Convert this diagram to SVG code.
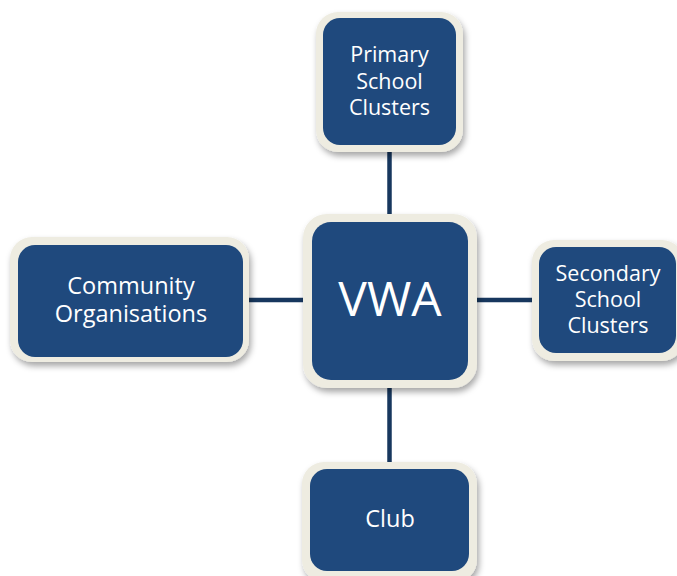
<svg xmlns="http://www.w3.org/2000/svg" width="677" height="576" viewBox="0 0 677 576">
<defs>
<filter id="sh" x="-20%" y="-20%" width="140%" height="140%">
<feDropShadow dx="2" dy="4" stdDeviation="3" flood-color="#000" flood-opacity="0.35"/>
</filter>
</defs>
<style>
.outer{fill:#EEECE1;filter:url(#sh)}
.inner{fill:#1F497D}
.lbl{fill:#fff;font-family:"Open Sans","Noto Sans",sans-serif;font-size:21.5px;text-anchor:middle}
.con{stroke:#17375E;stroke-width:4.5;fill:none}
</style>
<rect width="677" height="576" fill="#fff"/>
<g id="connectors">
<line class="con" x1="389.5" y1="150" x2="389.5" y2="218"/>
<line class="con" x1="389.5" y1="385" x2="389.5" y2="464"/>
<line class="con" x1="248" y1="300" x2="306" y2="300"/>
<line class="con" x1="473" y1="300" x2="534" y2="300"/>
</g>
<g id="primary">
<rect class="outer" x="316" y="12" width="147" height="140" rx="22"/>
<rect class="inner" x="323" y="18" width="133" height="127" rx="17"/>
<text class="lbl" x="389.5" y="62">Primary</text>
<text class="lbl" x="389.5" y="88.5">School</text>
<text class="lbl" x="389.5" y="115">Clusters</text>
</g>
<g id="vwa">
<rect class="outer" x="303" y="214" width="174" height="174" rx="24"/>
<rect class="inner" x="312" y="222" width="156" height="158" rx="19"/>
<text class="lbl" x="390" y="316" style="font-size:48px">VWA</text>
</g>
<g id="community">
<rect class="outer" x="10" y="237" width="239" height="125" rx="22"/>
<rect class="inner" x="18" y="245" width="225" height="112" rx="17"/>
<text class="lbl" x="131" y="294" style="font-size:23.5px">Community</text>
<text class="lbl" x="131" y="322" style="font-size:23.5px">Organisations</text>
</g>
<g id="secondary">
<rect class="outer" x="532" y="240" width="152" height="121" rx="22"/>
<rect class="inner" x="539" y="247" width="137" height="106" rx="17"/>
<text class="lbl" x="608" y="281">Secondary</text>
<text class="lbl" x="608" y="307">School</text>
<text class="lbl" x="608" y="333">Clusters</text>
</g>
<g id="club">
<rect class="outer" x="302" y="462" width="175" height="120" rx="22"/>
<rect class="inner" x="310" y="469" width="159" height="102" rx="17"/>
<text class="lbl" x="390" y="527" style="font-size:23.5px">Club</text>
</g>
</svg>
